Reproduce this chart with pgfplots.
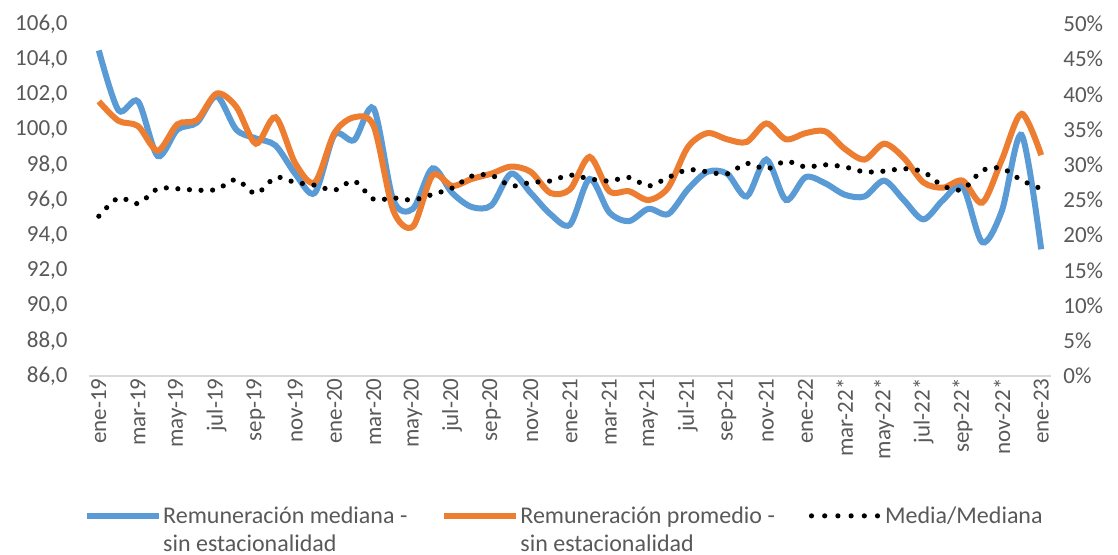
\documentclass[border=0pt]{standalone}
\usepackage{fontspec}
\setmainfont{Carlito}
\usepackage{pgfplots}
\usepackage{pgfplotstable}
\pgfplotsset{compat=1.18}
\definecolor{cBlue}{HTML}{5B9BD5}
\definecolor{cOrange}{HTML}{ED7D31}
\definecolor{cText}{HTML}{595959}
\definecolor{cAxis}{HTML}{D9D9D9}

\pgfplotstableread{
m med prom ratio
0 104.5 101.6 22.7
1 101.1 100.5 25.3
2 101.6 100.2 24.5
3 98.5 98.8 26.6
4 100.0 100.3 26.6
5 100.4 100.55 26.4
6 101.9 102.05 26.5
7 100.0 101.3 27.9
8 99.5 99.2 25.9
9 99.1 100.7 28.2
10 97.5 98.1 27.5
11 96.4 97.0 27.1
12 99.7 99.8 26.4
13 99.4 100.7 27.7
14 101.2 100.2 25.1
15 96.0 95.4 25.3
16 95.5 94.5 25.0
17 97.8 97.4 25.8
18 96.4 96.8 26.7
19 95.6 97.2 28.4
20 95.7 97.5 28.5
21 97.5 97.9 27.0
22 96.4 97.6 27.5
23 95.2 96.4 27.7
24 94.6 96.6 28.55
25 97.2 98.45 28.0
26 95.3 96.5 27.7
27 94.8 96.5 28.2
28 95.5 96.0 27.0
29 95.2 96.7 28.2
30 96.6 99.0 29.3
31 97.6 99.8 29.0
32 97.5 99.45 28.7
33 96.2 99.3 30.2
34 98.3 100.35 29.4
35 96.0 99.45 30.5
36 97.3 99.8 29.7
37 96.95 99.9 30.0
38 96.3 98.9 29.7
39 96.2 98.3 29.0
40 97.1 99.2 29.1
41 96.0 98.4 29.45
42 94.9 97.0 29.0
43 96.0 96.7 27.0
44 96.75 97.1 26.5
45 93.6 95.85 29.2
46 95.4 98.3 29.5
47 99.7 100.9 27.8
48 93.2 98.55 26.6
}\datatable

\tikzset{dotline/.style={black, line width=2.6pt, line cap=round, dash pattern=on 0pt off 5.8pt}}

\begin{document}
\begin{tikzpicture}
\useasboundingbox (0,0) rectangle (559pt,277pt);
\begin{axis}[
  at={(44.5pt,89pt)}, anchor=south west,
  scale only axis, width=481pt, height=176pt,
  xmin=-0.5, xmax=48.5, ymin=86, ymax=106,
  ytick={86,88,...,106},
  xtick={0,2,...,48},
  xticklabels={ene-19,mar-19,may-19,jul-19,sep-19,nov-19,ene-20,mar-20,may-20,jul-20,sep-20,nov-20,ene-21,mar-21,may-21,jul-21,sep-21,nov-21,ene-22,mar-22*,may-22*,jul-22*,sep-22*,nov-22*,ene-23},
  axis x line*=bottom, axis y line*=left,
  x axis line style={-, draw=cAxis, line width=0.8pt},
  y axis line style={draw=none},
  major tick length=0pt, tick style={draw=none},
  tick label style={font=\fontsize{11.5}{14}\selectfont, text=cText},
  x tick label style={rotate=90, anchor=east, inner sep=0pt, xshift=-1pt},
  y tick label style={anchor=east, inner sep=0pt, xshift=-10.5pt},
  /pgf/number format/.cd, use comma, fixed, fixed zerofill, precision=1, assume math mode=true,
  /pgfplots/.cd,
  legend columns=3,
  legend image code/.code={\draw[#1] (0pt,4pt) -- (36pt,4pt);},
  legend style={at={(-0.005,-0.353)}, anchor=north west, draw=none, fill=none,
    inner sep=0pt, outer sep=0pt, font=\fontsize{12}{14}\selectfont, text=cText,
    cells={anchor=base west, inner sep=0pt},
    /tikz/every odd column/.append style={column sep=-1.5pt},
    /tikz/every even column/.append style={column sep=15pt}},
]
\addplot[cBlue, line width=3pt, smooth, tension=0.5] table[x=m, y=med] {\datatable};
\addlegendentry{{\begin{tabular}[t]{@{}l@{}}Remuneración mediana -\\sin estacionalidad\end{tabular}}}
\addplot[cOrange, line width=3pt, smooth, tension=0.5] table[x=m, y=prom] {\datatable};
\addlegendentry{{\begin{tabular}[t]{@{}l@{}}Remuneración promedio -\\sin estacionalidad\end{tabular}}}
\addlegendimage{legend image code/.code={\draw[dotline, dash pattern=on 0pt off 6.6pt] (1.5pt,4pt) -- (34.5pt,4pt);}}
\addlegendentry{\hspace{2pt}Media/Mediana}
\end{axis}
\begin{axis}[
  at={(44.5pt,89pt)}, anchor=south west,
  scale only axis, width=481pt, height=176pt,
  xmin=-0.5, xmax=48.5, ymin=0, ymax=50,
  ytick={0,5,...,50},
  axis x line=none, axis y line*=right,
  y axis line style={draw=none},
  major tick length=0pt, tick style={draw=none},
  tick label style={font=\fontsize{11.5}{14}\selectfont, text=cText},
  y tick label style={anchor=west, inner sep=0pt, xshift=6pt},
  yticklabel={\pgfmathprintnumber[fixed, precision=0, assume math mode=true]{\tick}\%},
]
\addplot[dotline, smooth, tension=0.5] table[x=m, y=ratio] {\datatable};
\end{axis}
\end{tikzpicture}
\end{document}
